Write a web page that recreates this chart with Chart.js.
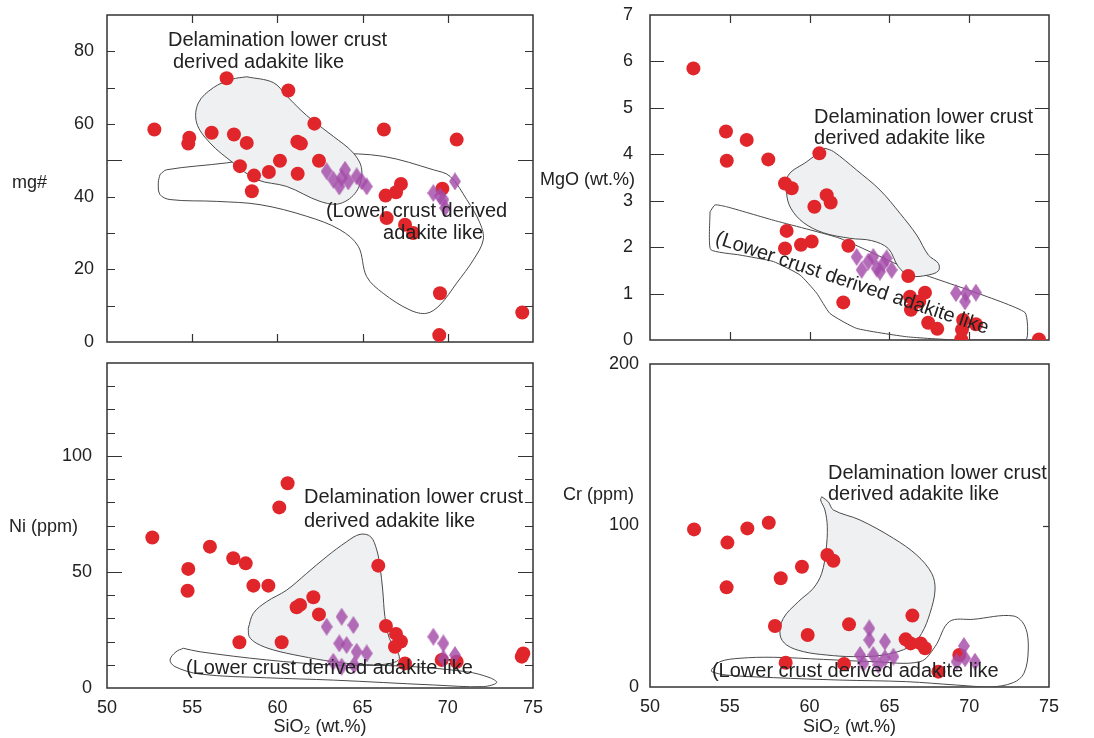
<!DOCTYPE html>
<html>
<head>
<meta charset="utf-8">
<script src="https://cdn.jsdelivr.net/npm/chart.js@4.4.1/dist/chart.umd.min.js"></script>
<style>
  body { margin: 0; background: #fff; }
  #wrap { position: relative; width: 1094px; height: 738px; overflow: hidden; }
  canvas { position: absolute; }
</style>
</head>
<body>
<div id="wrap">
  <canvas id="mgChart" width="547" height="355" style="left:0;top:0"></canvas>
  <canvas id="mgoChart" width="564" height="355" style="left:530px;top:0"></canvas>
  <canvas id="niChart" width="547" height="388" style="left:0;top:350px"></canvas>
  <canvas id="crChart" width="564" height="388" style="left:530px;top:350px"></canvas>
</div>
<script>
"use strict";

// SiO2 (wt.%) vs mg#
const mgSamples = [
  [52.78, 58.5], [54.83, 56.2], [54.77, 54.6], [56.14, 57.6], [57.02, 72.6],
  [57.45, 57.1], [58.2, 54.8], [57.8, 48.4], [58.63, 45.8], [58.5, 41.5],
  [59.5, 46.8], [60.15, 49.9], [60.64, 69.2], [61.17, 55.1], [61.38, 54.6],
  [61.19, 46.3], [62.17, 60.1], [62.44, 49.9], [66.25, 58.5], [66.35, 40.3],
  [66.41, 34.1], [66.96, 41.2], [67.25, 43.5], [67.49, 32.3], [67.97, 30.0],
  [69.68, 42.2], [69.54, 13.4], [69.5, 1.9], [70.52, 55.7], [74.37, 8.1]
];
const mgDiamonds = [
  [62.89, 47.0], [63.28, 44.7], [63.63, 42.8], [63.97, 47.4], [64.16, 44.2],
  [64.65, 45.6], [64.95, 44.2], [65.24, 42.8], [63.77, 45.2],
  [69.15, 41.0], [69.74, 39.2], [69.84, 36.9], [70.42, 44.2], [69.54, 40.1]
];
const mgDelamField = [
  [58.2, 73.0], [59.76, 71.4], [60.55, 67.7], [61.33, 64.0], [62.11, 60.8],
  [63.28, 56.6], [64.46, 52.0], [64.95, 47.4], [64.65, 41.5], [63.67, 38.1],
  [62.5, 38.7], [60.55, 42.8], [58.79, 44.7], [57.41, 49.3], [56.04, 54.8],
  [55.26, 60.3], [55.36, 65.8], [56.24, 70.0], [57.32, 72.3], [58.2, 73.0]
];
const mgLowerField = [
  [53.11, 46.1], [53.5, 47.4], [57.02, 49.3], [60.35, 51.6], [63.28, 51.9],
  [66.21, 51.1], [69.15, 47.4], [70.13, 45.6], [71.11, 39.2], [71.89, 32.7],
  [72.08, 28.1], [71.5, 22.6], [70.52, 16.2], [69.54, 10.2], [68.76, 7.9],
  [67.78, 8.8], [66.21, 13.4], [65.24, 18.0], [64.75, 26.3], [63.67, 30.9],
  [61.72, 34.6], [58.98, 37.8], [56.44, 38.7], [53.7, 39.2], [53.11, 40.6],
  [53.01, 43.8], [53.11, 46.1]
];

// SiO2 (wt.%) vs MgO (wt.%)
const mgoSamples = [
  [52.72, 5.85], [54.76, 4.49], [54.81, 3.86], [56.06, 4.31], [57.41, 3.89],
  [58.46, 3.37], [58.88, 3.27], [58.56, 2.35], [58.46, 1.97], [59.46, 2.05],
  [60.13, 2.12], [60.3, 2.87], [60.61, 4.02], [61.07, 3.12], [61.32, 2.96],
  [62.43, 2.03], [62.11, 0.81], [66.18, 1.38], [66.29, 0.93], [66.35, 0.65],
  [67.23, 1.02], [66.87, 0.83], [67.43, 0.37], [68.0, 0.24], [69.55, 0.22],
  [69.5, 0.01], [69.62, 0.43], [70.42, 0.34], [74.37, 0.01]
];
const mgoDiamonds = [
  [62.95, 1.79], [63.26, 1.51], [63.68, 1.69], [63.99, 1.79], [64.2, 1.54],
  [64.62, 1.65], [64.83, 1.76], [65.14, 1.51], [64.41, 1.47],
  [69.17, 1.01], [69.8, 1.01], [69.74, 0.83], [70.42, 1.02]
];
const mgoDelamField = [
  [60.96, 4.13], [61.49, 4.06], [62.95, 3.66], [64.41, 3.23], [65.66, 2.73],
  [66.71, 2.26], [67.44, 1.83], [68.07, 1.65], [68.07, 1.49], [67.44, 1.4],
  [66.29, 1.38], [65.56, 1.58], [64.93, 1.97], [63.89, 2.14], [62.53, 2.19],
  [60.86, 2.31], [59.61, 2.53], [58.82, 2.84], [58.56, 3.16], [58.67, 3.55],
  [59.82, 3.84], [60.96, 4.13]
];
const mgoLowerField = [
  [53.76, 2.76], [54.07, 2.91], [54.8, 2.87], [57.73, 2.58], [61.9, 2.19],
  [66.08, 1.54], [70.26, 1.04], [73.5, 0.59], [73.56, 0.01], [69.21, 0.0],
  [66.08, 0.07], [62.95, 0.25], [61.28, 0.57], [60.44, 1.01], [59.4, 1.4],
  [57.73, 1.69], [55.64, 1.83], [53.8, 1.95], [53.76, 2.76]
];

// SiO2 (wt.%) vs Ni (ppm)
const niSamples = [
  [52.66, 64.8], [54.77, 51.3], [54.73, 41.9], [56.04, 60.9], [57.41, 55.9],
  [58.14, 53.7], [58.59, 44.1], [59.47, 44.1], [57.77, 19.7], [60.25, 19.7],
  [60.11, 77.8], [60.6, 88.2], [61.13, 34.8], [61.33, 35.8], [62.11, 39.1],
  [62.44, 31.7], [65.92, 52.7], [66.37, 26.7], [66.96, 23.3], [66.9, 17.8],
  [67.25, 20.0], [67.49, 10.6], [69.64, 12.1], [70.52, 11.3], [74.43, 14.9],
  [74.34, 13.5]
];
const niDiamonds = [
  [62.89, 26.4], [63.77, 30.7], [64.46, 27.1], [63.63, 19.2], [64.06, 18.5],
  [64.65, 15.6], [65.24, 14.9], [63.28, 11.3], [63.77, 9.2], [64.5, 9.9],
  [69.15, 22.1], [69.74, 19.2], [69.74, 12.8], [70.42, 14.2]
];
const niDelamField = [
  [58.29, 25.7], [58.59, 32.2], [59.37, 37.2], [60.55, 42.2], [61.72, 49.4],
  [62.89, 56.6], [64.06, 63.0], [64.85, 66.2], [65.47, 65.2], [65.83, 59.5],
  [66.02, 52.3], [66.18, 42.2], [66.31, 30.7], [66.57, 21.4], [67.16, 12.8],
  [66.41, 10.3], [64.85, 10.2], [63.28, 11.3], [61.33, 13.8], [59.76, 16.4],
  [58.79, 19.2], [58.35, 22.1], [58.29, 25.7]
];
const niLowerField = [
  [54.48, 17.1], [55.46, 15.6], [59.37, 12.1], [63.28, 9.9], [67.19, 9.5],
  [71.11, 7.0], [72.48, 4.4], [72.87, 2.3], [72.08, 0.6], [69.15, 1.3],
  [63.28, 3.4], [59.37, 4.4], [55.46, 6.0], [53.99, 9.2], [53.7, 12.1],
  [54.05, 15.6], [54.48, 17.1]
];

// SiO2 (wt.%) vs Cr (ppm)
const crSamples = [
  [52.76, 97.6], [54.85, 89.4], [56.1, 98.2], [57.44, 101.7], [54.8, 61.7],
  [58.19, 67.3], [59.52, 74.5], [61.11, 81.7], [61.49, 78.2], [57.83, 37.8],
  [59.88, 32.2], [58.5, 15.0], [62.16, 14.2], [62.47, 38.8], [66.44, 44.2],
  [66.02, 29.5], [66.33, 27.0], [66.96, 27.0], [67.23, 24.0], [68.07, 9.5],
  [69.38, 19.8]
];
const crDiamonds = [
  [63.74, 36.3], [63.74, 29.1], [64.72, 28.1], [63.16, 19.8], [63.99, 19.8],
  [64.72, 17.8], [65.25, 18.8], [63.37, 14.6], [64.31, 13.6],
  [69.67, 25.4], [69.21, 15.7], [70.36, 15.7], [69.74, 17.8]
];
const crDelamField = [
  [60.76, 117.8], [61.17, 114.7], [61.49, 109.6], [63.16, 103.4], [65.25, 92.1],
  [66.71, 81.7], [67.65, 70.4], [67.86, 60.1], [67.54, 45.6], [67.02, 33.2],
  [66.29, 25.0], [64.62, 19.8], [62.74, 18.8], [61.07, 19.8], [59.61, 21.9],
  [58.56, 26.0], [58.15, 32.2], [58.35, 42.5], [59.29, 52.8], [60.23, 61.1],
  [60.76, 70.4], [61.03, 84.8], [61.11, 99.3], [60.96, 109.6], [60.69, 115.8],
  [60.76, 117.8]
];
const crLowerField = [
  [53.86, 10.9], [54.39, 15.7], [55.64, 17.8], [57.73, 18.4], [60.86, 17.1],
  [63.99, 15.7], [66.92, 15.7], [67.86, 25.0], [68.76, 40.5], [70.26, 41.9],
  [72.76, 44.0], [73.5, 37.4], [73.7, 22.9], [73.43, 8.5], [72.76, 2.7],
  [71.3, 0.0], [69.21, 1.2], [66.08, 3.3], [61.9, 4.3], [57.73, 5.8],
  [54.8, 7.4], [53.86, 9.5], [53.86, 10.9]
];

const DELAM = "Delamination lower crust";
const DELAM2 = "derived adakite like";
const LOWER = "(Lower crust derived";
const LOWER2 = "adakite like";
const LOWER_FULL = "(Lower crust derived adakite like";

const FONT = '"Liberation Sans", Arial, Helvetica, sans-serif';
const RED = "#e1262b";
const PURPLE = "rgba(163, 76, 168, 0.82)";

function diamond(w, h, color) {
  const c = document.createElement("canvas");
  c.width = w;
  c.height = h;
  const g = c.getContext("2d");
  g.fillStyle = color;
  g.beginPath();
  g.moveTo(w / 2, 0);
  g.lineTo(w, h / 2);
  g.lineTo(w / 2, h);
  g.lineTo(0, h / 2);
  g.closePath();
  g.fill();
  return c;
}
const diamondImg = diamond(12, 18, PURPLE);

const toXY = (pairs) => pairs.map(([x, y]) => ({ x, y }));

// frame, inward ticks, axis title and field labels
const framePlugin = {
  id: "frame",
  beforeDatasetsDraw(chart, args, opts) {
    const { ctx, chartArea: a, scales } = chart;
    ctx.save();
    ctx.strokeStyle = "#333";
    ctx.lineWidth = 1.5;
    ctx.strokeRect(a.left, a.top, a.right - a.left, a.bottom - a.top);
    ctx.lineWidth = 1.2;
    ctx.beginPath();
    (opts.xTicks || []).forEach((v) => {
      const px = Math.round(scales.x.getPixelForValue(v)) + 0.5;
      ctx.moveTo(px, a.top);
      ctx.lineTo(px, a.top + 8);
      ctx.moveTo(px, a.bottom);
      ctx.lineTo(px, a.bottom - 8);
    });
    (opts.yTicks || []).forEach(([v, len, sides]) => {
      const py = Math.round(scales.y.getPixelForValue(v)) + 0.5;
      if (sides !== "right") {
        ctx.moveTo(a.left, py);
        ctx.lineTo(a.left + len, py);
      }
      ctx.moveTo(a.right, py);
      ctx.lineTo(a.right - len, py);
    });
    ctx.stroke();
    ctx.restore();
  },
  afterDatasetsDraw(chart, args, opts) {
    const { ctx, scales } = chart;
    ctx.save();
    ctx.fillStyle = "#222";
    ctx.textBaseline = "middle";
    ctx.textAlign = "left";
    if (opts.yTitle) {
      ctx.font = "18px " + FONT;
      ctx.fillText(opts.yTitle.text, opts.yTitle.x, opts.yTitle.y);
    }
    ctx.font = "20px " + FONT;
    (opts.notes || []).forEach((n) => {
      const px = scales.x.getPixelForValue(n.x);
      const py = scales.y.getPixelForValue(n.y);
      ctx.save();
      ctx.translate(px, py);
      if (n.angle) ctx.rotate((n.angle * Math.PI) / 180);
      ctx.fillText(n.text, 0, 0);
      ctx.restore();
    });
    ctx.restore();
  },
};

function makePanel(id, cfg) {
  const tickFont = { family: FONT, size: 18 };
  const field = (pairs, fill, tension) => ({
    type: "scatter",
    data: toXY(pairs),
    showLine: true,
    tension: tension,
    borderColor: "#4a4a4a",
    borderWidth: 1,
    backgroundColor: fill || "rgba(0,0,0,0)",
    fill: fill ? "shape" : false,
    pointRadius: 0,
    order: 5,
  });
  return new Chart(document.getElementById(id), {
    type: "scatter",
    data: {
      datasets: [
        {
          data: toXY(cfg.samples),
          backgroundColor: RED,
          borderWidth: 0,
          pointRadius: 7,
          order: 1,
        },
        {
          data: toXY(cfg.diamonds),
          pointStyle: diamondImg,
          pointRadius: 9,
          order: 0,
        },
        field(cfg.delam, "#eff0f2", 0.35),
        field(cfg.lower, null, cfg.lowerTension ?? 0.35),
      ],
    },
    options: {
      responsive: false,
      animation: false,
      events: [],
      layout: { padding: cfg.pad },
      plugins: {
        legend: { display: false },
        tooltip: { enabled: false },
        frame: {
          xTicks: cfg.xTicks,
          yTicks: cfg.yTicks,
          yTitle: cfg.yTitle,
          notes: cfg.notes,
        },
      },
      scales: {
        x: {
          type: "linear",
          min: 50,
          max: 75,
          grid: { display: false },
          border: { display: false },
          ticks: {
            display: cfg.showX,
            stepSize: 5,
            padding: 1,
            color: "#222",
            font: tickFont,
          },
          title: {
            display: cfg.showX,
            text: "SiO₂ (wt.%)",
            color: "#222",
            font: tickFont,
            padding: { top: 0, bottom: 0 },
          },
          afterFit: (s) => {
            s.height = cfg.xHeight;
            s.paddingLeft = 0;
            s.paddingRight = 0;
          },
        },
        y: {
          min: cfg.yMin,
          max: cfg.yMax,
          grid: { display: false },
          border: { display: false },
          ticks: {
            stepSize: cfg.yStep,
            autoSkip: false,
            padding: cfg.yPad,
            color: "#222",
            font: tickFont,
            callback: (v) => (cfg.yLabels.includes(v) ? String(v) : ""),
          },
          afterFit: (s) => {
            s.width = cfg.yWidth;
            s.paddingTop = 0;
            s.paddingBottom = 0;
          },
        },
      },
    },
    plugins: [framePlugin],
  });
}

makePanel("mgChart", {
  samples: mgSamples,
  diamonds: mgDiamonds,
  delam: mgDelamField,
  lower: mgLowerField,
  yMin: 0,
  yMax: 90,
  yStep: 10,
  yLabels: [0, 20, 40, 60, 80],
  yWidth: 107,
  yPad: 5,
  xHeight: 0,
  showX: false,
  pad: { top: 15, right: 14, bottom: 13, left: 0 },
  xTicks: [55, 60, 65, 70],
  yTicks: [[10, 8], [20, 8], [30, 8], [40, 8], [50, 15], [60, 8], [70, 8], [80, 8]],
  yTitle: { text: "mg#", x: 12, y: 183 },
  notes: [
    { text: DELAM, x: 53.58, y: 83.0 },
    { text: DELAM2, x: 53.87, y: 77.0 },
    { text: LOWER, x: 62.85, y: 35.9 },
    { text: LOWER2, x: 66.2, y: 29.8 },
  ],
});

makePanel("mgoChart", {
  samples: mgoSamples,
  diamonds: mgoDiamonds,
  delam: mgoDelamField,
  lower: mgoLowerField,
  lowerTension: 0.15,
  yMin: 0,
  yMax: 7,
  yStep: 1,
  yLabels: [0, 1, 2, 3, 4, 5, 6, 7],
  yWidth: 120,
  yPad: 9,
  xHeight: 0,
  showX: false,
  pad: { top: 15, right: 45, bottom: 15, left: 0 },
  xTicks: [55, 60, 65, 70],
  yTicks: [[1, 14], [2, 14], [3, 14], [4, 14], [5, 14], [6, 14]],
  yTitle: { text: "MgO (wt.%)", x: 10, y: 180 },
  notes: [
    { text: DELAM, x: 60.28, y: 4.8 },
    { text: DELAM2, x: 60.28, y: 4.35 },
    { text: LOWER_FULL, x: 54.14, y: 2.2, angle: 18.5 },
  ],
});

makePanel("niChart", {
  samples: niSamples,
  diamonds: niDiamonds,
  delam: niDelamField,
  lower: niLowerField,
  yMin: 0,
  yMax: 140,
  yStep: 10,
  yLabels: [0, 50, 100],
  yWidth: 107,
  yPad: 7,
  xHeight: 50,
  showX: true,
  pad: { top: 13, right: 14, bottom: 0, left: 0 },
  xTicks: [],
  yTicks: [
    [10, 8], [20, 8], [30, 8], [40, 8], [50, 15], [60, 8], [70, 8],
    [80, 8], [90, 8], [100, 15], [110, 8], [120, 8], [130, 8]
  ],
  yTitle: { text: "Ni (ppm)", x: 9, y: 177 },
  notes: [
    { text: DELAM, x: 61.56, y: 81.9 },
    { text: DELAM2, x: 61.56, y: 71.9 },
    { text: LOWER_FULL, x: 54.64, y: 8.2 },
  ],
});

makePanel("crChart", {
  samples: crSamples,
  diamonds: crDiamonds,
  delam: crDelamField,
  lower: crLowerField,
  yMin: 0,
  yMax: 200,
  yStep: 100,
  yLabels: [0, 100, 200],
  yWidth: 120,
  yPad: 3,
  xHeight: 51,
  showX: true,
  pad: { top: 14, right: 45, bottom: 0, left: 0 },
  xTicks: [],
  yTicks: [[100, 6, "right"]],
  yTitle: { text: "Cr (ppm)", x: 33, y: 145 },
  notes: [
    { text: DELAM, x: 61.15, y: 132.5 },
    { text: DELAM2, x: 61.15, y: 118.9 },
    { text: LOWER_FULL, x: 53.88, y: 9.9 },
  ],
});
</script>
</body>
</html>
